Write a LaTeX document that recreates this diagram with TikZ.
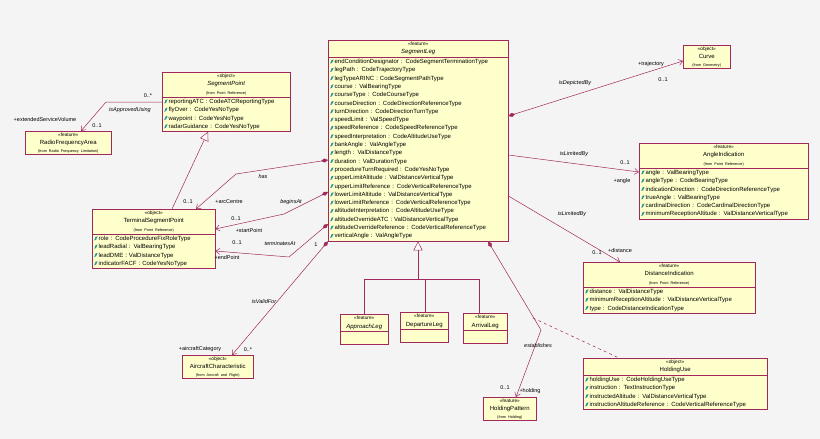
\documentclass[tikz,border=0pt]{standalone}
\usepackage{fontspec}
\setmainfont{Liberation Sans}
\usetikzlibrary{shapes.multipart, arrows.meta, calc}

\definecolor{umlline}{RGB}{160,40,90}
\definecolor{umlfill}{RGB}{255,255,204}
\definecolor{attrc}{RGB}{30,150,160}
\definecolor{bgc}{RGB}{244,244,244}

\newcommand{\st}[1]{{\fontsize{4.8}{6}\selectfont\textless\textless #1\textgreater\textgreater}}
\newcommand{\frm}[1]{{\fontsize{3.8}{5}\selectfont (from #1)}}
\newcommand{\at}{\tikz[baseline=0pt]\fill[attrc] (0pt,0pt) -- (1.4pt,3.6pt) -- (3.4pt,4pt) -- (1.8pt,0.6pt) -- cycle;\,}

\tikzset{
  cls/.style={rectangle split, rectangle split parts=2, draw=umlline, fill=umlfill,
    anchor=north west, inner xsep=2pt, inner ysep=1.8pt, text width=#1,
    font=\fontsize{6}{8.3}\selectfont},
  box/.style={draw=umlline, fill=umlfill, anchor=north west, inner xsep=2pt,
    inner ysep=1.5pt, text width=#1, align=center, font=\fontsize{6}{8}\selectfont},
  assoc/.style={umlline, -{Straight Barb[length=4pt,width=6pt]}},
  comp/.style={umlline, {Diamond[length=7pt,width=4pt]}-{Straight Barb[length=4pt,width=6pt]}},
  gen/.style={umlline, -{Triangle[open,length=9pt,width=9pt,fill=white]}},
  lbl/.style={font=\fontsize{5.5}{6}\selectfont\itshape},
  role/.style={font=\fontsize{5.5}{6}\selectfont}
}

\begin{document}
\begin{tikzpicture}[x=1pt, y=-1pt, line width=0.5pt]
  \fill[bgc] (0,0) rectangle (820,439);
  \useasboundingbox (0,0) rectangle (820,439);

  % classes
  \node[cls=176pt] (leg) at (328,40) {\centering\st{feature}\\ \textit{SegmentLeg}\par
    \nodepart{two}\at endConditionDesignator : CodeSegmentTerminationType\\
    \at legPath : CodeTrajectoryType\\
    \at legTypeARINC : CodeSegmentPathType\\
    \at course : ValBearingType\\
    \at courseType : CodeCourseType\\
    \at courseDirection : CodeDirectionReferenceType\\
    \at turnDirection : CodeDirectionTurnType\\
    \at speedLimit : ValSpeedType\\
    \at speedReference : CodeSpeedReferenceType\\
    \at speedInterpretation : CodeAltitudeUseType\\
    \at bankAngle : ValAngleType\\
    \at length : ValDistanceType\\
    \at duration : ValDurationType\\
    \at procedureTurnRequired : CodeYesNoType\\
    \at upperLimitAltitude : ValDistanceVerticalType\\
    \at upperLimitReference : CodeVerticalReferenceType\\
    \at lowerLimitAltitude : ValDistanceVerticalType\\
    \at lowerLimitReference : CodeVerticalReferenceType\\
    \at altitudeInterpretation : CodeAltitudeUseType\\
    \at altitudeOverrideATC : ValDistanceVerticalType\\
    \at altitudeOverrideReference : CodeVerticalReferenceType\\
    \at verticalAngle : ValAngleType};

  \node[cls=124pt] (segpt) at (162,72) {\centering\st{object}\\ \textit{SegmentPoint}\\ \frm{Point Reference}\par
    \nodepart{two}\at reportingATC : CodeATCReportingType\\
    \at flyOver : CodeYesNoType\\
    \at waypoint : CodeYesNoType\\
    \at radarGuidance : CodeYesNoType};

  \node[box=82pt] (rfa) at (25,131) {\st{feature}\\ RadioFrequencyArea\\ \frm{Radio Frequency Limitation}};

  \node[cls=119pt] (termpt) at (92,209) {\centering\st{object}\\ TerminalSegmentPoint\\ \frm{Point Reference}\par
    \nodepart{two}\at role : CodeProcedureFixRoleType\\
    \at leadRadial : ValBearingType\\
    \at leadDME : ValDistanceType\\
    \at indicatorFACF : CodeYesNoType};

  \node[box=43pt] (curve) at (683,45) {\st{object}\\ Curve\\ \frm{Geometry}};

  \node[cls=165pt] (angle) at (639,143) {\centering\st{feature}\\ AngleIndication\\ \frm{Point Reference}\par
    \nodepart{two}\at angle : ValBearingType\\
    \at angleType : CodeBearingType\\
    \at indicationDirection : CodeDirectionReferenceType\\
    \at trueAngle : ValBearingType\\
    \at cardinalDirection : CodeCardinalDirectionType\\
    \at minimumReceptionAltitude : ValDistanceVerticalType};

  \node[cls=168pt] (dist) at (583,262) {\centering\st{feature}\\ DistanceIndication\\ \frm{Point Reference}\par
    \nodepart{two}\at distance : ValDistanceType\\
    \at minimumReceptionAltitude : ValDistanceVerticalType\\
    \at type : CodeDistanceIndicationType};

  \node[cls=180pt] (huse) at (583,358) {\centering\st{object}\\ HoldingUse\par
    \nodepart{two}\at holdingUse : CodeHoldingUseType\\
    \at instruction : TextInstructionType\\
    \at instructedAltitude : ValDistanceVerticalType\\
    \at instructionAltitudeReference : CodeVerticalReferenceType};

  \node[box=49pt] (hold) at (483,397) {\st{feature}\\ HoldingPattern\\ \frm{Holding}};

  \node[box=67pt] (acft) at (182,355) {\st{object}\\ AircraftCharacteristic\\ \frm{Aircraft and Flight}};

  \node[cls=44pt] (appr) at (340,314) {\centering\st{feature}\\ \textit{ApproachLeg}\par\nodepart{two}\strut};
  \node[cls=44pt] (dep) at (400,312) {\centering\st{feature}\\ DepartureLeg\par\nodepart{two}\strut};
  \node[cls=40pt] (arr) at (463,313) {\centering\st{feature}\\ ArrivalLeg\par\nodepart{two}\strut};

  % generalisations
  \coordinate (bar) at (418,279);
  \draw[gen] (appr.north -| 364,0) |- (bar) -- (leg.south -| bar);
  \draw[umlline] (dep.north -| 425,0) -- (425,279);
  \draw[umlline] (arr.north -| 479,0) |- (bar);
  \draw[gen] (termpt.north -| 172,0) -- (segpt.south -| 208,0);

  % associations
  \coordinate (k1) at (106,102);
  \draw[assoc] (segpt.west |- k1) -- (k1) -- (rfa.north -| 81,0);
  \node[role] at (148,96) {0..*};
  \node[lbl] at (130,110) {isApprovedUsing};
  \node[role] at (45,120) {+extendedServiceVolume};
  \node[role] at (97,126) {0..1};

  \coordinate (k2) at (236,174);
  \draw[comp] (leg.west |- 0,160) -- (k2) -- (termpt.north -| 196,0);
  \node[lbl] at (263,177) {has};
  \node[role] at (188,202) {0..1};
  \node[role] at (229,202) {+arcCentre};

  \coordinate (k3) at (284,214);
  \draw[comp] (leg.west |- 0,192) -- (k3) -- (termpt.east |- 0,229);
  \node[lbl] at (291,202) {beginsAt};
  \node[role] at (236,219) {0..1};
  \node[role] at (249,231) {+startPoint};

  \coordinate (k4) at (289,257);
  \draw[comp] (leg.west |- 0,224) -- (k4) -- (termpt.east |- 0,251);
  \node[lbl] at (280,244) {terminatesAt};
  \node[role] at (237,243) {0..1};
  \node[role] at (227,258) {+endPoint};
  \node[role] at (316,245) {1};

  \draw[comp] (leg.south west) -- (acft.north -| 232,0);
  \node[lbl] at (264,302) {isValidFor};
  \node[role] at (200,349) {+aircraftCategory};
  \node[role] at (248,350) {0..*};

  \coordinate (k5) at (541,330);
  \coordinate (hj) at (533,318);
  \draw[comp] (leg.south -| 488,0) -- (k5) -- (hold.north -| 516,0);
  \draw[umlline, dashed] (hj) -- (huse.north -| 619,0);
  \node[lbl] at (538,346) {establishes};
  \node[role] at (505,388) {0..1};
  \node[role] at (530,391) {+holding};

  \draw[comp] (leg.east |- 0,116) -- (curve.west |- 0,61);
  \node[lbl] at (575,83) {isDepictedBy};
  \node[role] at (651,64) {+trajectory};
  \node[role] at (663,80) {0..1};

  \draw[assoc] (leg.east |- 0,155) -- (angle.west |- 0,172);
  \node[lbl] at (574,154) {isLimitedBy};
  \node[role] at (625,163) {0..1};
  \node[role] at (622,181) {+angle};

  \draw[assoc] (leg.east |- 0,196) -- (dist.north -| 620,0);
  \node[lbl] at (572,214) {isLimitedBy};
  \node[role] at (597,253) {0..1};
  \node[role] at (620,251) {+distance};
\end{tikzpicture}
\end{document}
